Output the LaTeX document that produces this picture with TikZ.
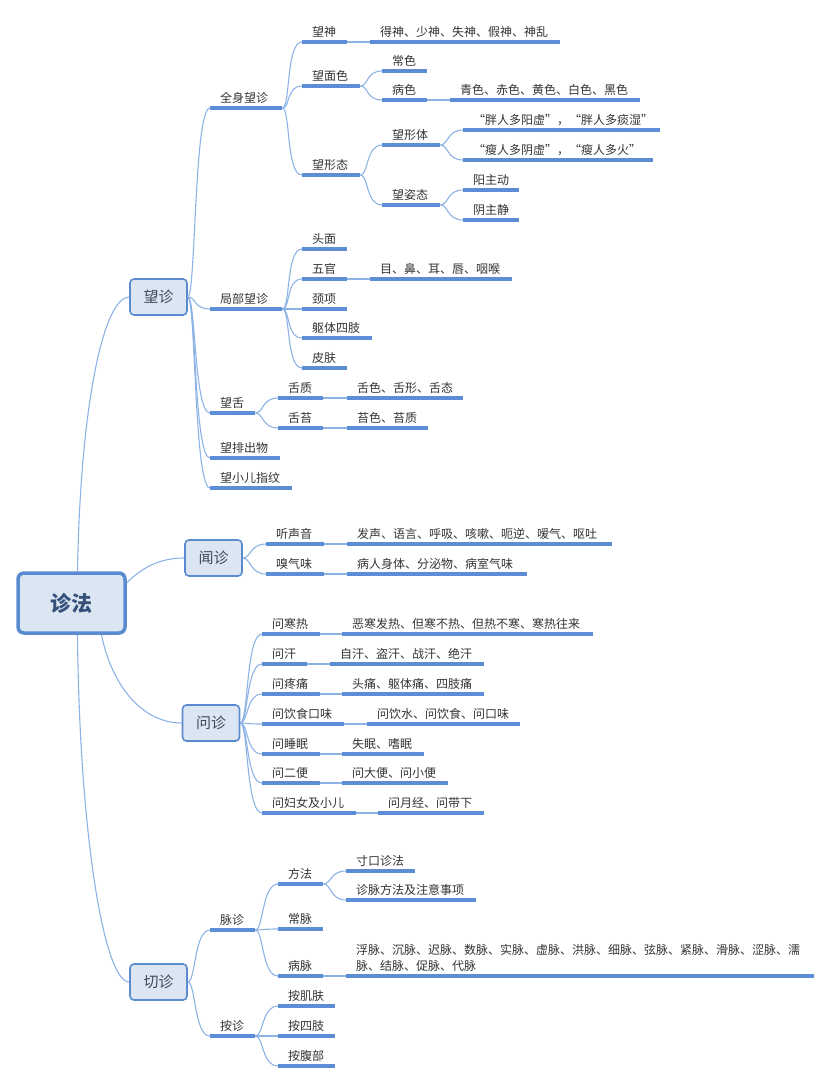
\documentclass[tikz,border=0pt]{standalone}
\usepackage{fontspec}
\setmainfont{Noto Sans CJK SC}

\definecolor{boxfill}{HTML}{DCE6F2}
\definecolor{boxline}{HTML}{5A8AD0}
\definecolor{ulinec}{HTML}{5B8ED6}
\definecolor{linkc}{HTML}{8DB3E6}
\definecolor{txt}{HTML}{333333}
\definecolor{boxtxt}{HTML}{3F4A5A}
\definecolor{roottxt}{HTML}{35507A}

\tikzset{
  root/.style={draw=boxline, line width=3.5pt, fill=boxfill, rounded corners=6pt,
    minimum width=107pt, minimum height=60pt, text=roottxt,
    font=\bfseries\fontsize{21}{24}\selectfont},
  mainbox/.style={draw=boxline, line width=1.6pt, fill=boxfill, rounded corners=4pt,
    minimum width=57pt, minimum height=36pt, text=boxtxt,
    font=\fontsize{15}{18}\selectfont},
  underl/.style={draw=ulinec, line width=3.2pt},
  topic/.style={anchor=south west, inner xsep=10pt, inner ysep=4.5pt, text width=#1pt,
    align=left, text=txt, font=\fontsize{12}{16}\selectfont,
    append after command={(\tikzlastnode.south west) edge[underl] (\tikzlastnode.south east)}},
  branch/.style={draw=linkc, line width=1.1pt,
    to path={.. controls +(8,0) and +(-16,0) .. (\tikztotarget)}},
  rootlink/.style={draw=linkc, line width=1.1pt}
}

\begin{document}
\begin{tikzpicture}[x=1pt,y=-1pt]
	\useasboundingbox (0,0) rectangle (831,1081);
	% main topics
	\node[root] (root) at (71.5,603) {诊法};
	\node[mainbox] (wang) at (158.5,297) {望诊};
	\node[mainbox] (wen) at (213.5,558) {闻诊};
	\node[mainbox] (wenz) at (211,723) {问诊};
	\node[mainbox] (qie) at (158.5,982) {切诊};
	\draw[rootlink] ([xshift=6]root.north) .. controls +(3,-170) and +(-25,0) .. (wang.west);
	\draw[rootlink] (root.20) .. controls +(15,-15) and +(-25,0) .. (wen.west);
	\draw[rootlink] ([xshift=30]root.south) .. controls +(10,50) and +(-40,0) .. (wenz.west);
	\draw[rootlink] ([xshift=6]root.south) .. controls +(2,200) and +(-25,0) .. (qie.west);

	% 望诊
	\node[topic=52] (qsw) at (210,108) {全身望诊};
	\node[topic=25] (wsh) at (302,42) {望神};
	\node[topic=170] (wshL) at (370,42) {得神、少神、失神、假神、神乱};
	\node[topic=38] (wmc) at (302,86) {望面色};
	\node[topic=25] (cs) at (382,71) {常色};
	\node[topic=25] (bs) at (382,100) {病色};
	\node[topic=170] (bsL) at (450,100) {青色、赤色、黄色、白色、黑色};
	\node[topic=38] (wxt) at (302,175) {望形态};
	\node[topic=38] (wxti) at (382,145) {望形体};
	\node[topic=177] (pang) at (463,130) {“胖人多阳虚”，“胖人多痰湿”};
	\node[topic=170] (shou) at (463,160) {“瘦人多阴虚”，“瘦人多火”};
	\node[topic=38] (wzt) at (382,205) {望姿态};
	\node[topic=36] (yang) at (463,190) {阳主动};
	\node[topic=36] (yin) at (463,220) {阴主静};
	\node[topic=52] (jbw) at (210,309) {局部望诊};
	\node[topic=25] (tm) at (302,249) {头面};
	\node[topic=25] (wg) at (302,279) {五官};
	\node[topic=122] (wgL) at (370,279) {目、鼻、耳、唇、咽喉};
	\node[topic=25] (jx) at (302,309) {颈项};
	\node[topic=50] (qt) at (302,338) {躯体四肢};
	\node[topic=25] (pf) at (302,368) {皮肤};
	\node[topic=25] (ws) at (210,413) {望舌};
	\node[topic=25] (szh) at (278,398) {舌质};
	\node[topic=96] (szhL) at (347,398) {舌色、舌形、舌态};
	\node[topic=25] (st) at (278,428) {舌苔};
	\node[topic=61] (stL) at (347,428) {苔色、苔质};
	\node[topic=50] (wpc) at (210,458) {望排出物};
	\node[topic=62] (wxr) at (210,488) {望小儿指纹};

	% 闻诊
	\node[topic=38] (tsy) at (266,544) {听声音};
	\node[topic=245] (tsyL) at (347,544) {发声、语言、呼吸、咳嗽、呃逆、嗳气、呕吐};
	\node[topic=38] (xqw) at (266,574) {嗅气味};
	\node[topic=160] (xqwL) at (347,574) {病人身体、分泌物、病室气味};

	% 问诊
	\node[topic=38] (whr) at (262,634) {问寒热};
	\node[topic=231] (whrL) at (342,634) {恶寒发热、但寒不热、但热不寒、寒热往来};
	\node[topic=25] (wh) at (262,664) {问汗};
	\node[topic=134] (whL) at (330,664) {自汗、盗汗、战汗、绝汗};
	\node[topic=38] (wtt) at (262,694) {问疼痛};
	\node[topic=122] (wttL) at (342,694) {头痛、躯体痛、四肢痛};
	\node[topic=62] (wys) at (262,724) {问饮食口味};
	\node[topic=133] (wysL) at (367,724) {问饮水、问饮食、问口味};
	\node[topic=38] (wsm) at (262,754) {问睡眠};
	\node[topic=62] (wsmL) at (342,754) {失眠、嗜眠};
	\node[topic=38] (web) at (262,783) {问二便};
	\node[topic=86] (webL) at (342,783) {问大便、问小便};
	\node[topic=74] (wfn) at (262,813) {问妇女及小儿};
	\node[topic=86] (wfnL) at (378,813) {问月经、问带下};

	% 切诊
	\node[topic=25] (mz) at (210,930) {脉诊};
	\node[topic=25] (ff) at (278,884) {方法};
	\node[topic=49] (ck) at (346,871) {寸口诊法};
	\node[topic=110] (zm) at (346,900) {诊脉方法及注意事项};
	\node[topic=25] (cm) at (278,929) {常脉};
	\node[topic=25] (bm) at (278,976) {病脉};
	\node[topic=448] (bmL) at (346,976) {浮脉、沉脉、迟脉、数脉、实脉、虚脉、洪脉、细脉、弦脉、紧脉、滑脉、涩脉、濡\\脉、结脉、促脉、代脉};
	\node[topic=25] (az) at (210,1036) {按诊};
	\node[topic=37] (ajf) at (278,1006) {按肌肤};
	\node[topic=37] (asz) at (278,1036) {按四肢};
	\node[topic=37] (afb) at (278,1066) {按腹部};

	\path[branch]
	     (wang.east) edge (qsw.south west)  (wang.east) edge (jbw.south west)
	     (wang.east) edge (ws.south west)  (wang.east) edge (wpc.south west)
	     (wang.east) edge (wxr.south west)
	     (qsw.south east) edge (wsh.south west)  (qsw.south east) edge (wmc.south west)
	     (qsw.south east) edge (wxt.south west)
	     (wsh.south east) edge (wshL.south west)
	     (wmc.south east) edge (cs.south west)  (wmc.south east) edge (bs.south west)
	     (bs.south east) edge (bsL.south west)
	     (wxt.south east) edge (wxti.south west)  (wxt.south east) edge (wzt.south west)
	     (wxti.south east) edge (pang.south west)  (wxti.south east) edge (shou.south west)
	     (wzt.south east) edge (yang.south west)  (wzt.south east) edge (yin.south west)
	     (jbw.south east) edge (tm.south west)  (jbw.south east) edge (wg.south west)
	     (jbw.south east) edge (jx.south west)  (jbw.south east) edge (qt.south west)
	     (jbw.south east) edge (pf.south west)
	     (wg.south east) edge (wgL.south west)
	     (ws.south east) edge (szh.south west)  (ws.south east) edge (st.south west)
	     (szh.south east) edge (szhL.south west)  (st.south east) edge (stL.south west)
	     (wen.east) edge (tsy.south west)  (wen.east) edge (xqw.south west)
	     (tsy.south east) edge (tsyL.south west)  (xqw.south east) edge (xqwL.south west)
	     (wenz.east) edge (whr.south west)  (wenz.east) edge (wh.south west)
	     (wenz.east) edge (wtt.south west)  (wenz.east) edge (wys.south west)
	     (wenz.east) edge (wsm.south west)  (wenz.east) edge (web.south west)
	     (wenz.east) edge (wfn.south west)
	     (whr.south east) edge (whrL.south west)  (wh.south east) edge (whL.south west)
	     (wtt.south east) edge (wttL.south west)  (wys.south east) edge (wysL.south west)
	     (wsm.south east) edge (wsmL.south west)  (web.south east) edge (webL.south west)
	     (wfn.south east) edge (wfnL.south west)
	     (qie.east) edge (mz.south west)  (qie.east) edge (az.south west)
	     (mz.south east) edge (ff.south west)  (mz.south east) edge (cm.south west)
	     (mz.south east) edge (bm.south west)
	     (ff.south east) edge (ck.south west)  (ff.south east) edge (zm.south west)
	     (bm.south east) edge (bmL.south west)
	     (az.south east) edge (ajf.south west)  (az.south east) edge (asz.south west)
	     (az.south east) edge (afb.south west);
\end{tikzpicture}
\end{document}
